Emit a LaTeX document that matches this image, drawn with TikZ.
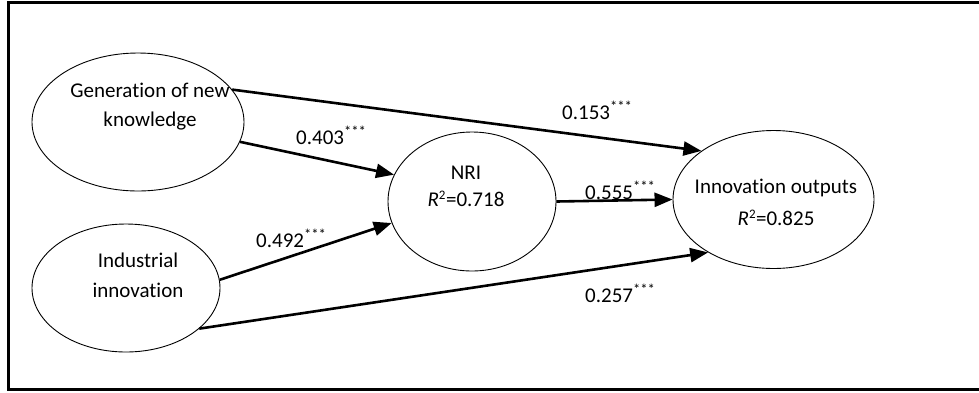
\documentclass[tikz,border=0pt]{standalone}
\usepackage{fontspec}
\setmainfont{Carlito}
\newcommand{\tiNoLig}{t\kern0pt i}
\usetikzlibrary{shapes.geometric,arrows.meta}
\begin{document}
\begin{tikzpicture}[x=1pt,y=-1pt,
  oval/.style={draw,ellipse,line width=0.9pt,inner sep=0pt},
  txt/.style={font=\fontsize{21}{25}\selectfont,inner sep=0pt},
  coef/.style={font=\fontsize{21}{25}\selectfont,inner sep=0pt},
  path/.style={line width=2.6pt,-{Triangle[length=18pt,width=14pt]}}]
\useasboundingbox (0,0) rectangle (979,392);
\draw[line width=3pt] (8,2) rectangle (1000,389);
% latent variables
\node[oval,minimum width=212pt,minimum height=138pt] (gen) at (138,122) {};
\node[oval,minimum width=188pt,minimum height=128pt] (ind) at (126,288) {};
\node[oval,minimum width=168pt,minimum height=139pt] (nri) at (472,201.5) {};
\node[oval,minimum width=201pt,minimum height=138pt] (out) at (773.5,199.5) {};
% texts
\node[txt] (gent1) at (150,90) {Genera\tiNoLig on of new};
\node[txt] (gent2) at (150,121) {knowledge};
\node[txt] (indt1) at (138,260) {Industrial};
\node[txt] (indt2) at (138,290) {innova\tiNoLig on};
\node[txt] (nrit1) at (466,173) {NRI};
\node[txt] (nrit2) at (466,199) {\textit{R}\textsuperscript{\fontsize{13}{13}\selectfont 2}=0.718};
\node[txt] (outt1) at (776,188) {Innova\tiNoLig on outputs};
\node[txt] (outt2) at (776,218) {\textit{R}\textsuperscript{\fontsize{13}{13}\selectfont 2}=0.825};
% paths
\draw[path] (gen.19) -- (out.146);
\draw[path] (gen.-11.5) -- (nri.161.5);
\draw[path] (ind.5.5) -- (nri.-165.3);
\draw[path] (ind.-29) -- (out.219.5);
\draw[path] (nri.east) -- (out.west);
% coefficients
\node[coef,anchor=base west] (c1) at (562,119) {0.153\textsuperscript{***}};
\node[coef,anchor=base west] (c2) at (296,144) {0.403\textsuperscript{***}};
\node[coef,anchor=base west] (c3) at (256,247) {0.492\textsuperscript{***}};
\node[coef,anchor=base west] (c4) at (585,199) {0.555\textsuperscript{***}};
\node[coef,anchor=base west] (c5) at (585,302) {0.257\textsuperscript{***}};
\end{tikzpicture}
\end{document}
